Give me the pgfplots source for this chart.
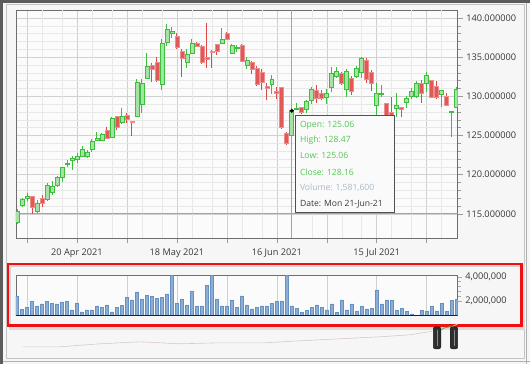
\documentclass[border=0pt]{standalone}
\usepackage{pgfplots}
\pgfplotsset{compat=1.18}
\usepackage{pgfplotstable}
\usepackage{fontspec}
\setmainfont{Open Sans}

\definecolor{gborder}{HTML}{3CC03C}
\definecolor{gfill}{HTML}{A6E2A6}
\definecolor{gwick}{HTML}{3CC03C}
\definecolor{rfill}{HTML}{E05858}
\definecolor{rborder}{HTML}{EC8E8E}
\definecolor{rwick}{HTML}{E04848}
\definecolor{vfill}{HTML}{8CADD4}
\definecolor{vdraw}{HTML}{6690C2}
\definecolor{majgrid}{HTML}{D0D0D0}
\definecolor{mingrid}{HTML}{E8E8E8}
\definecolor{txt}{HTML}{383838}
\definecolor{framecol}{HTML}{6E6E6E}
\definecolor{plotbg}{HTML}{FBFBFB}
\definecolor{pagebg}{HTML}{F6F6F6}
\definecolor{ttgreen}{HTML}{55C455}
\definecolor{ttvol}{HTML}{A6BACB}
\definecolor{c4}{HTML}{C4C4C4}
\definecolor{c5c}{HTML}{5C5C5C}
\definecolor{cb0}{HTML}{B0B0B0}
\definecolor{ca4}{HTML}{A4A4A4}
\definecolor{cfa}{HTML}{FAFAFA}
\definecolor{c50}{HTML}{505050}
\definecolor{cda}{HTML}{DADADA}
\definecolor{cd4}{HTML}{D4D4D4}
\definecolor{c9a}{HTML}{9A9A9A}
\definecolor{caa}{HTML}{AAAAAA}
\definecolor{c22}{HTML}{222222}
\definecolor{redframe}{HTML}{F01010}
\definecolor{navpink}{HTML}{D9C9C9}
\definecolor{navgreen}{HTML}{4CB84C}
\definecolor{navlg}{HTML}{C9D9C9}
\definecolor{c2e}{HTML}{2E2E2E}
\definecolor{c1e}{HTML}{1E1E1E}
\definecolor{c8a}{HTML}{8A8A8A}

\pgfdeclareplotmark{cbody}{%
  \pgfpathrectangle{\pgfpoint{-2pt}{-0.5*\bh pt}}{\pgfpoint{4pt}{\bh pt}}%
  \pgfusepathqfillstroke}

\pgfplotstableread{
i o h l c v
0 113.9 115.6 113.7 115.3 2360000
1 116.1 117.0 115.9 116.8 1310000
2 117.0 117.7 116.6 117.2 1470000
3 117.2 117.2 115.0 115.8 1940000
4 115.3 116.8 115.1 116.4 1580000
5 117.0 117.4 115.9 116.4 1750000
6 116.8 119.0 116.6 118.6 1970000
7 117.8 119.2 117.4 118.5 1810000
8 118.7 119.8 118.4 119.6 1750000
9 119.7 121.0 119.1 120.9 1920000
10 121.3 121.9 121.0 121.5 1940000
11 121.8 122.4 120.6 122.1 1250000
12 121.9 122.8 121.5 122.3 1810000
13 122.4 123.7 122.3 123.2 1080000
14 122.4 123.2 122.1 122.9 1250000
15 123.3 124.6 122.9 124.3 1250000
16 124.4 125.5 124.4 124.6 1580000
17 124.4 125.3 124.3 125.1 1440000
18 125.7 126.1 124.6 124.7 1670000
19 124.8 127.4 124.8 127.2 1080000
20 127.4 127.4 125.7 126.0 1470000
21 126.7 128.5 126.5 127.5 1640000
22 127.6 127.9 126.6 127.1 2310000
23 126.8 126.9 124.9 126.7 2080000
24 127.4 132.2 127.4 131.8 2750000
25 129.0 132.2 127.9 131.6 2170000
26 132.3 135.5 132.2 133.8 2440000
27 134.0 134.3 131.8 133.4 2360000
28 134.3 135.0 131.8 132.1 2220000
29 131.5 137.3 130.8 136.8 2310000
30 136.9 139.2 136.4 138.6 2580000
31 138.0 138.9 137.4 138.3 4150000
32 137.6 138.1 136.0 136.3 1810000
33 135.8 136.0 132.5 134.9 2140000
34 134.3 136.0 133.6 135.4 1670000
35 135.5 137.3 135.5 136.7 2830000
36 136.8 136.9 136.4 136.4 1580000
37 136.4 136.6 134.2 134.3 1580000
38 134.9 139.4 133.6 134.8 3280000
39 135.7 135.9 133.6 135.6 4100000
40 136.6 136.7 135.3 135.7 2170000
41 136.8 138.7 136.8 137.3 1580000
42 138.1 138.2 137.2 137.3 1580000
43 135.5 136.7 135.4 136.5 2080000
44 136.1 136.5 135.6 136.3 1440000
45 136.5 136.7 134.4 134.5 2420000
46 134.0 135.0 133.5 134.6 1670000
47 134.4 134.5 132.9 133.4 1330000
48 133.6 133.9 131.4 131.5 1470000
49 133.1 133.5 130.8 131.8 1580000
50 131.2 131.7 129.5 131.1 1580000
51 131.5 132.7 130.3 132.2 1810000
52 130.6 131.2 129.6 130.4 1940000
53 131.2 131.2 125.8 126.1 2000000
54 125.3 125.5 123.8 124.0 4150000
55 125.06 128.47 125.06 128.16 1581600
56 128.3 129.2 128.3 128.5 1390000
57 128.6 128.7 127.8 127.9 1060000
58 128.3 129.5 127.9 129.3 1190000
59 129.5 131.2 129.0 130.9 1470000
60 130.8 131.5 129.2 129.8 1670000
61 130.4 130.8 129.5 129.7 1440000
62 129.9 130.9 129.0 130.4 1250000
63 131.2 133.8 130.6 132.9 1750000
64 132.5 133.8 132.4 133.2 1060000
65 132.9 133.1 131.5 131.7 2080000
66 130.9 133.5 129.9 133.2 1250000
67 132.3 132.6 130.2 130.6 1750000
68 132.5 133.9 132.3 133.6 1110000
69 133.1 135.0 132.3 134.8 1530000
70 134.6 134.9 131.7 132.2 1330000
71 133.0 133.4 130.7 131.7 1390000
72 128.9 131.7 127.6 130.4 2920000
73 130.3 131.5 129.9 130.4 1750000
74 129.1 129.1 127.3 127.6 2080000
75 128.0 129.9 127.3 127.6 2030000
76 128.5 130.4 127.4 128.9 1190000
77 128.6 128.6 127.4 128.4 1390000
78 129.2 130.0 128.5 129.8 1110000
79 130.0 131.1 129.7 130.6 920000
80 130.0 131.9 129.8 131.6 800000
81 131.7 132.1 129.2 130.4 1190000
82 131.7 133.1 130.6 132.7 1110000
83 132.0 132.1 129.8 129.9 1530000
84 131.3 132.0 129.6 129.9 1170000
85 130.3 130.8 128.6 130.8 1810000
86 130.0 130.4 128.9 128.9 1110000
87 127.9 128.1 124.8 128.1 2030000
88 128.6 131.2 128.6 130.9 2140000
}\candles

\begin{document}
\begin{tikzpicture}[x=1pt,y=1pt]
% page background and window frame
\fill[pagebg] (0,0) rectangle (530,364);
\draw[c4, line width=0.8pt] (6,5) rectangle (524.5,359.5);
\fill[c5c] (0,361) rectangle (530,364);
\fill[c5c] (0,0) rectangle (3,364);
\draw[cb0, line width=0.6pt] (527,0) -- (527,361);
\draw[cb0, line width=0.6pt] (3,2) -- (530,2);

% price chart
\begin{axis}[
  at={(16pt,126pt)}, anchor=south west,
  scale only axis, width=442pt, height=228pt,
  xmin=-0.2, xmax=88.2, ymin=111.94, ymax=141.02,
  clip marker paths=true,
  axis background/.style={fill=plotbg},
  axis line style={framecol, line width=0.7pt},
  /pgf/number format/assume math mode=true,
  ticklabel style={font=\fontsize{9.2}{11}\selectfont, text=txt},
  tick align=outside, major tick length=5pt, minor tick length=3pt,
  tick style={c9a, line width=0.6pt},
  xtick={2,12,...,82},
  xticklabels={,20 Apr 2021,,18 May 2021,,16 Jun 2021,,15 Jul 2021,},
  xtick pos=left,
  xticklabel style={yshift=-2pt},
  extra x ticks={5,9,15,19,25,29,35,39,45,49,59,65,69,75,79,85},
  extra x tick labels={},
  extra x tick style={major grid style={mingrid, line width=0.6pt}, major tick length=0pt},
  ytick={115,120,...,140},
  minor y tick num=4,
  ytick pos=right, yticklabel pos=right,
  yticklabel style={/pgf/number format/.cd, fixed, fixed zerofill, precision=6},
  grid=both,
  major grid style={majgrid, line width=0.6pt},
  minor grid style={mingrid, line width=0.6pt},
]
\draw[ca4, line width=0.8pt] (axis cs:55,111.94) -- (axis cs:55,141.02);
\draw[ca4, line width=0.8pt] (axis cs:-0.2,115) -- (axis cs:88.2,115);
% wicks
\addplot[draw=none, mark=none, restrict expr to domain={\thisrow{c}-\thisrow{o}}{0:100},
  error bars/.cd, y dir=both, y explicit, error mark=none,
  error bar style={draw=gwick, line width=0.9pt}]
  table[x=i, y=c, y error plus expr=\thisrow{h}-\thisrow{c}, y error minus expr=\thisrow{c}-\thisrow{l}] {\candles};
\addplot[draw=none, mark=none, restrict expr to domain={\thisrow{c}-\thisrow{o}}{-100:-0.0001},
  error bars/.cd, y dir=both, y explicit, error mark=none,
  error bar style={draw=rwick, line width=0.9pt}]
  table[x=i, y=c, y error plus expr=\thisrow{h}-\thisrow{c}, y error minus expr=\thisrow{c}-\thisrow{l}] {\candles};
% bodies
\addplot[only marks, mark=cbody, mark options={fill=gfill, draw=gborder, line width=0.7pt},
  restrict expr to domain={\thisrow{c}-\thisrow{o}}{0:100},
  visualization depends on={max(7.84*abs(\thisrow{c}-\thisrow{o}),1.2) \as \bh}]
  table[x=i, y expr={(\thisrow{o}+\thisrow{c})/2}] {\candles};
\addplot[only marks, mark=cbody, mark options={fill=rfill, draw=rborder, line width=0.7pt},
  restrict expr to domain={\thisrow{c}-\thisrow{o}}{-100:-0.0001},
  visualization depends on={max(7.84*abs(\thisrow{c}-\thisrow{o}),1.2) \as \bh}]
  table[x=i, y expr={(\thisrow{o}+\thisrow{c})/2}] {\candles};
% hovered point
\addplot[only marks, mark=*, mark size=1.8pt, black] coordinates {(55,128.16)};
\end{axis}

% tooltip
\draw[fill=cfa, draw=c50, line width=0.8pt] (296,151) rectangle (395,249);
\begin{scope}[every node/.style={anchor=west, inner sep=0pt, font=\fontsize{8.6}{10}\selectfont}]
\node[text=ttgreen] at (300,239) {Open: 125.06};
\node[text=ttgreen] at (300,223.5) {High: 128.47};
\node[text=ttgreen] at (300,208) {Low: 125.06};
\node[text=ttgreen] at (300,192) {Close: 128.16};
\node[text=ttvol] at (300,176) {Volume: 1,581,600};
\node[text=txt] at (300,160) {Date: Mon 21-Jun-21};
\end{scope}

% volume panel shadow and frame
\fill[cda] (9,34) rectangle (525,99);
\fill[pagebg] (7,37) rectangle (523,101);
\draw[cd4, line width=2pt] (10.5,40) -- (10.5,97.5) -- (520,97.5);

\begin{axis}[
  at={(16pt,48pt)}, anchor=south west,
  scale only axis, width=442pt, height=40pt,
  xmin=-0.2, xmax=88.2, ymin=750000, ymax=4080000,
  axis background/.style={fill=plotbg},
  axis line style={framecol, line width=0.7pt},
  /pgf/number format/assume math mode=true,
  ticklabel style={font=\fontsize{9.2}{11}\selectfont, text=txt},
  tick align=outside, major tick length=4pt, minor tick length=3pt,
  tick style={caa, line width=0.6pt},
  xtick={2,12,...,82}, xticklabels={}, xtick style={draw=none},
  xmajorgrids, major grid style={majgrid, line width=0.6pt},
  ytick={2000000,4000000}, minor y tick num=4,
  ytick pos=right, yticklabel pos=right,
  scaled y ticks=false,
  yticklabel style={/pgf/number format/.cd, fixed, 1000 sep={,}},
]
\addplot[ybar, bar width=3pt, fill=vfill, draw=vdraw, line width=0.4pt] table[x=i, y=v] {\candles};
\draw[c22, line width=0.8pt] (axis cs:-0.2,750000) -- (axis cs:88.2,750000);
\end{axis}
\draw[redframe, line width=2.5pt] (8.25,38.25) rectangle (521.75,99.75);

% navigator
\begin{axis}[
  at={(0pt,0pt)}, anchor=south west,
  scale only axis, width=530pt, height=364pt,
  xmin=0, xmax=530, ymin=0, ymax=364, hide axis,
]
\addplot[navpink, line width=0.6pt] coordinates {
(23,17) (60,17) (100,20) (140,22) (180,20) (220,21) (265,21) (300,23) (340,25) (380,27) (410,29) (435,33)};
\addplot[navgreen, line width=0.9pt] coordinates {(435,33) (441,34) (445,36) (450,37) (452,37)};
\addplot[navlg, line width=0.6pt] coordinates {(452,37) (458,40)};
\end{axis}
\draw[fill=c2e, draw=c1e, line width=0.5pt, rounded corners=2pt] (433.5,15) rectangle (441,37);
\draw[fill=c2e, draw=c1e, line width=0.5pt, rounded corners=2pt] (450.5,15) rectangle (458,37);
\draw[c8a, line width=0.8pt] (437.2,18) -- (437.2,34);
\draw[c8a, line width=0.8pt] (454.2,18) -- (454.2,34);
\end{tikzpicture}
\end{document}
